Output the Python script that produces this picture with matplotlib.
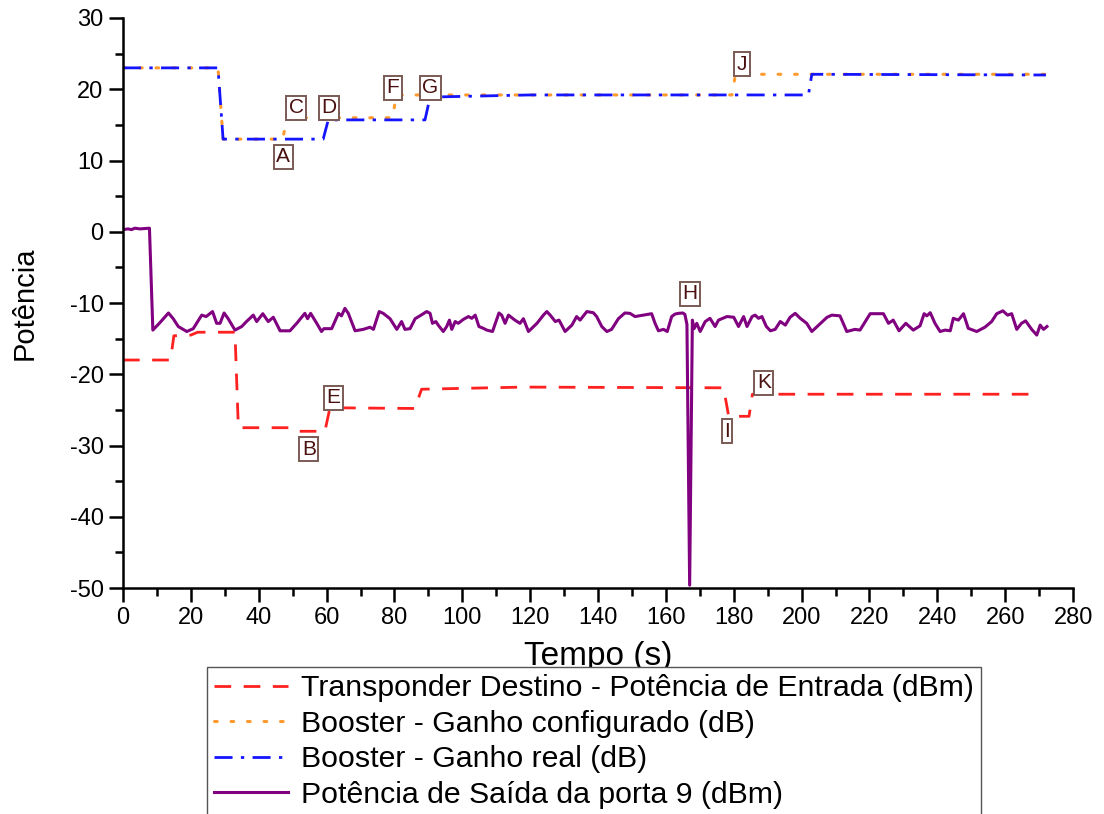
import matplotlib
matplotlib.use('Agg')
import matplotlib.pyplot as plt
from matplotlib.ticker import MultipleLocator

plt.rcParams['font.family'] = ['Liberation Sans', 'DejaVu Sans']
plt.rcParams['axes.unicode_minus'] = False

# Transponder Destino - Potência de Entrada (dBm)
t_red = [0, 14, 15, 20, 22, 33, 34, 50, 51.5, 59.5, 61, 86, 88, 118, 177, 178.5, 184.5, 185.5, 268]
v_red = [-18, -18, -14.6, -14.5, -14.1, -14.1, -27.5, -27.5, -28, -28, -24.7, -24.8, -22.1, -21.8, -21.9,
         -25.9, -25.9, -22.8, -22.8]

# Booster - Ganho configurado (dB)
t_orange = [0, 28, 29.5, 47, 48.5, 79.5, 80.5, 179.5, 180.5, 272]
v_orange = [23, 23, 13, 13, 16, 16, 19.2, 19.2, 22.1, 22.1]

# Booster - Ganho real (dB)
t_blue = [0, 28, 29.5, 59, 60.5, 89, 90.5, 120, 202, 203, 272]
v_blue = [23, 23, 13, 13, 15.7, 15.7, 18.9, 19.2, 19.2, 22.1, 22.0]

# Potência de Saída da porta 9 (dBm)
t_purple = [0, 1.5, 2.5, 3.5, 5, 7.8, 8.8, 10.7, 13.4, 14.8, 16.3, 18.8, 20.7, 23.2, 24.5, 26.4, 27.6,
            28.6, 29.8, 31.0, 33.0, 35.0, 36.4, 38.4, 39.4, 41.2, 42.8, 44.3, 46.3, 49.2, 51.2, 53.6,
            54.4, 55.3, 57.1, 58.5, 59.2, 61.5, 63.5, 64.4, 65.4, 66.4, 68.4, 70.8, 72.8, 73.8, 75.5,
            76.7, 78.7, 80.7, 82.1, 83.1, 84.6, 86.1, 87.5, 89.5, 90.5, 91.2, 92.2, 92.9, 94.4, 95.4,
            96.2, 96.9, 97.9, 98.8, 100.3, 101.8, 102.8, 103.8, 104.9, 106.2, 107.2, 108.9, 110.8,
            111.6, 112.6, 113.6, 115.5, 117.0, 118.0, 119.5, 122.0, 123.9, 124.9, 125.9, 127.4, 128.5,
            130.3, 132.3, 133.7, 134.7, 136.7, 138.6, 139.6, 141.1, 142.6, 144.0, 146.0, 147.9, 149.4,
            150.9, 153.3, 155.8, 156.8, 157.8, 159.3, 160.4, 161.7, 162.7, 163.7, 165.0, 165.6, 166.2,
            167.0, 167.8, 168.3, 169.1, 170.1, 171.6, 173.0, 174.5, 175.5, 178.0, 180.0, 181.4, 182.9,
            183.9, 185.4, 186.3, 187.3, 188.3, 189.6, 190.8, 192.2, 193.7, 195.2, 196.6, 198.1, 199.6,
            201.5, 203.0, 205.5, 207.5, 208.9, 211.3, 213.3, 215.7, 217.2, 220.2, 224.1, 225.6, 227.0,
            228.7, 230.7, 232.9, 234.9, 236.1, 236.9, 237.9, 239.3, 240.8, 242.3, 243.8, 244.7, 246.2,
            247.7, 249.1, 251.6, 254.0, 256.0, 257.5, 259.3, 260.7, 261.9, 263.4, 264.8, 266.0, 267.8,
            269.3, 270.3, 271.3, 272.3]
v_purple = [0.3, 0.4, 0.3, 0.5, 0.4, 0.5, -13.8, -12.85, -11.4, -12.2, -13.3, -14.0, -13.6, -11.7, -11.9,
            -11.2, -12.85, -12.85, -11.4, -12.2, -13.8, -13.3, -12.6, -11.7, -12.6, -11.5, -12.6, -12.0,
            -13.9, -13.9, -12.85, -11.45, -12.2, -11.45, -12.85, -14.0, -13.6, -13.6, -11.45, -11.8,
            -10.75, -11.45, -13.9, -13.7, -13.4, -13.7, -11.2, -11.45, -12.2, -13.7, -12.6, -13.7, -13.6,
            -12.2, -11.8, -11.2, -11.45, -12.85, -12.6, -13.1, -14.0, -13.3, -12.4, -13.7, -12.6, -12.85,
            -12.3, -11.9, -12.15, -11.7, -13.3, -13.55, -13.8, -14.0, -11.4, -11.7, -12.85, -11.7, -12.4,
            -12.85, -12.2, -14.0, -12.85, -11.7, -11.2, -11.7, -12.6, -12.4, -14.0, -13.1, -11.9, -12.4,
            -11.2, -11.36, -11.9, -13.3, -14.0, -13.7, -12.2, -11.4, -11.45, -11.9, -11.7, -11.5, -12.85,
            -13.9, -13.7, -14.0, -11.9, -11.55, -11.45, -11.4, -11.6, -13.0, -49.6, -12.4, -13.6, -12.85,
            -14.0, -12.6, -12.15, -13.3, -12.4, -11.9, -12.0, -13.3, -11.9, -13.3, -11.9, -11.7, -12.15,
            -11.9, -13.3, -13.9, -13.7, -12.6, -13.1, -12.0, -11.45, -12.15, -12.85, -14.0, -12.9, -12.0,
            -11.7, -11.8, -14.0, -13.7, -13.8, -11.5, -11.5, -12.85, -12.4, -13.9, -12.85, -13.8, -13.2,
            -11.5, -11.8, -11.36, -12.85, -14.0, -13.8, -13.9, -12.15, -12.4, -11.5, -13.55, -14.0, -13.4,
            -12.6, -11.5, -11.1, -11.7, -11.5, -13.7, -12.85, -12.5, -13.7, -14.5, -13.1, -13.7, -13.3]

# annotation markers
marks = ['A', 'C', 'D', 'F', 'G', 'J', 'B', 'E', 'H', 'I', 'K']
mark_t = [47.2, 51.0, 60.7, 79.6, 90.5, 182.4, 54.8, 61.9, 167.1, 178.0, 188.9]
mark_v = [10.5, 17.4, 17.4, 20.2, 20.2, 23.5, -30.5, -23.3, -8.7, -28.0, -21.2]

fig = plt.figure(figsize=(11.04, 8.14), dpi=100)
ax = fig.add_axes([0.1114, 0.2776, 0.8606, 0.7003])

ax.plot(t_red, v_red, color='#ff2020', lw=2, ls=(0, (6, 4.5)),
        label='Transponder Destino - Potência de Entrada (dBm)')
ax.plot(t_orange, v_orange, color='#ff9a2e', lw=2.2, ls=(0, (0.9, 4.5)), dash_capstyle='round',
        label='Booster - Ganho configurado (dB)')
ax.plot(t_blue, v_blue, color='#1414ff', lw=2, ls=(0, (6.5, 3, 1.2, 3)),
        label='Booster - Ganho real (dB)')
ax.plot(t_purple, v_purple, color='#800080', lw=2.2,
        label='Potência de Saída da porta 9 (dBm)')

for m, t, v in zip(marks, mark_t, mark_v):
    ax.text(t, v, m, ha='center', va='center', fontsize=15, color='#4a1010',
            bbox=dict(boxstyle='square,pad=0.12', fc='white', ec='#7a5a55', lw=1.4))

ax.set_xlim(0, 280)
ax.set_ylim(-50, 30)
ax.xaxis.set_major_locator(MultipleLocator(20))
ax.xaxis.set_minor_locator(MultipleLocator(10))
ax.yaxis.set_major_locator(MultipleLocator(10))
ax.yaxis.set_minor_locator(MultipleLocator(5))
ax.tick_params(which='major', direction='out', length=10, width=1.8, labelsize=17, pad=4)
ax.tick_params(which='minor', direction='out', length=5.5, width=1.8)
for s in ['top', 'right']:
    ax.spines[s].set_visible(False)
for s in ['left', 'bottom']:
    ax.spines[s].set_linewidth(1.8)

ax.set_xlabel('Tempo (s)', fontsize=24, labelpad=8)
ax.set_ylabel('Potência', fontsize=21, labelpad=22)

fig.legend(loc='upper left', bbox_to_anchor=(207 / 1104, 1 - 667 / 814), fontsize=21.8,
           fancybox=False, edgecolor='#555555', framealpha=1, handlelength=2.45,
           handletextpad=0.42, labelspacing=0.25, borderpad=0.24, borderaxespad=0)

fig.savefig('out.png', dpi=100)
